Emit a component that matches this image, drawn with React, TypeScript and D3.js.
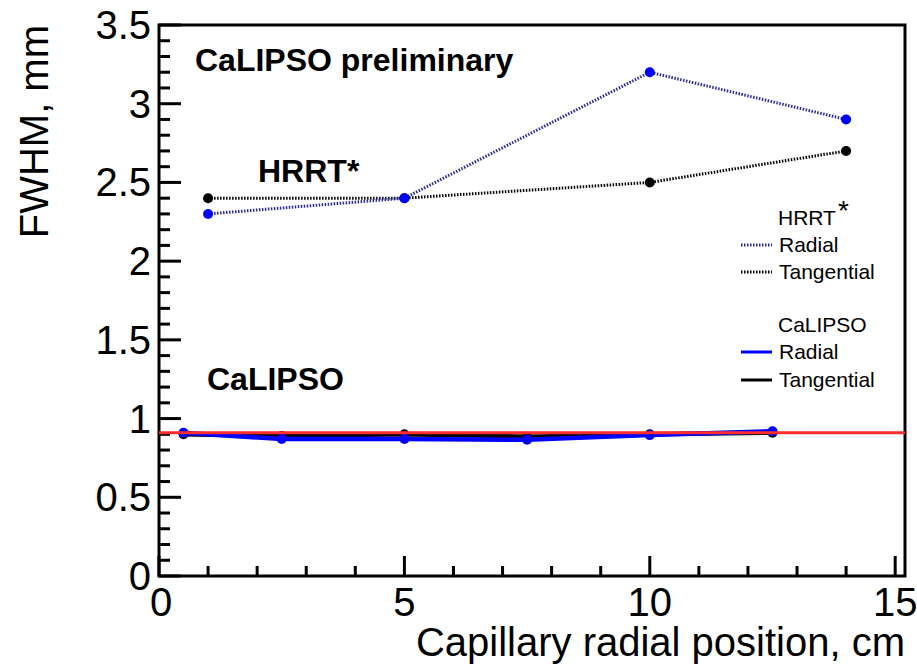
import React from 'react';
import * as d3 from 'd3';

// HRRT* reference scanner (dotted)
const hrrtX = [1, 5, 10, 14];
const hrrtRadial = [2.3, 2.4, 3.2, 2.9];
const hrrtTangential = [2.4, 2.4, 2.5, 2.7];

// CaLIPSO (solid)
const calipsoX = [0.5, 2.5, 5, 7.5, 10, 12.5];
const calipsoRadial = [0.91, 0.87, 0.87, 0.865, 0.895, 0.92];
const calipsoTangential = [0.9, 0.89, 0.9, 0.885, 0.9, 0.91];

const refLevel = 0.91;

const yTicks = [0, 0.5, 1, 1.5, 2, 2.5, 3, 3.5];
const xTicks = [0, 5, 10, 15];

const W = 917, H = 665;
const FONT = '"Liberation Sans", Arial, Helvetica, sans-serif';

const App = () => {
  const x = d3.scaleLinear().domain([0, 15.2]).range([159, 905]);
  const y = d3.scaleLinear().domain([0, 3.5]).range([576, 25]);

  const line = d3.line<[number, number]>()
    .x(d => x(d[0]))
    .y(d => y(d[1]));

  const pts = (xs: number[], ys: number[]) => xs.map((v, i) => [v, ys[i]] as [number, number]);

  const yMinor = d3.range(0, 3.5001, 0.1);
  const xMinor = d3.range(0, 15.001, 1);

  const legendRows = [
    {label: 'Radial', color: '#2a2a9a', dash: '1.5,1.5', y: 252},
    {label: 'Tangential', color: '#000', dash: '1.5,1.5', y: 279},
    {label: 'Radial', color: '#0000ff', dash: null, y: 359},
    {label: 'Tangential', color: '#000', dash: null, y: 387},
  ];

  return (
    <svg width={W} height={H} style={{position: 'absolute', left: 0, top: 0, background: '#fff'}}
      fontFamily={FONT}>
      {/* frame */}
      <rect x={x(0)} y={y(3.5)} width={x(15.2) - x(0)} height={y(0) - y(3.5)}
        fill="none" stroke="#000" strokeWidth={3} />

      {/* y ticks */}
      {yMinor.map((t, i) => {
        const major = i % 5 === 0;
        return <line key={'ym' + i} x1={x(0)} x2={x(0) + (major ? 22 : 11)} y1={y(t)} y2={y(t)}
          stroke="#000" strokeWidth={3} />;
      })}
      {yTicks.map(t => (
        <text key={'yl' + t} x={151} y={y(t) + 14} textAnchor="end" fontSize={40}>
          {d3.format('~g')(t)}
        </text>
      ))}

      {/* x ticks */}
      {xMinor.map((t, i) => {
        const major = i % 5 === 0;
        return <line key={'xm' + i} x1={x(t)} x2={x(t)} y1={y(0)} y2={y(0) - (major ? 20 : 10)}
          stroke="#000" strokeWidth={3} />;
      })}
      {xTicks.map(t => (
        <text key={'xl' + t} x={x(t) + (t === 0 ? 2 : 0)} y={616} textAnchor="middle" fontSize={40}>
          {t}
        </text>
      ))}

      {/* axis titles */}
      <text x={905} y={656} textAnchor="end" fontSize={40}>Capillary radial position, cm</text>
      <text transform="translate(48,25) rotate(-90)" textAnchor="end" fontSize={40}>FWHM, mm</text>

      {/* HRRT dotted series */}
      <path d={line(pts(hrrtX, hrrtTangential)) || ''} fill="none" stroke="#000" strokeWidth={3}
        strokeDasharray="1.5,1.5" />
      <path d={line(pts(hrrtX, hrrtRadial)) || ''} fill="none" stroke="#2a2a9a" strokeWidth={3}
        strokeDasharray="1.5,1.5" />
      {hrrtX.map((v, i) => <circle key={'ht' + i} cx={x(v)} cy={y(hrrtTangential[i])} r={5} fill="#000" />)}
      {hrrtX.map((v, i) => <circle key={'hr' + i} cx={x(v)} cy={y(hrrtRadial[i])} r={5} fill="#0000ff" />)}

      {/* CaLIPSO solid series */}
      <path d={line(pts(calipsoX, calipsoTangential)) || ''} fill="none" stroke="#000" strokeWidth={4.5} />
      {calipsoX.map((v, i) => <circle key={'ct' + i} cx={x(v)} cy={y(calipsoTangential[i])} r={5} fill="#000" />)}
      <path d={line(pts(calipsoX, calipsoRadial)) || ''} fill="none" stroke="#0000ff" strokeWidth={4.5} />
      {calipsoX.map((v, i) => <circle key={'cr' + i} cx={x(v)} cy={y(calipsoRadial[i])} r={5} fill="#0000ff" />)}

      {/* reference level */}
      <line x1={x(0)} x2={x(15.2)} y1={y(refLevel)} y2={y(refLevel)} stroke="#ff2d2d" strokeWidth={3} />

      {/* annotations */}
      <text x={195} y={71} fontSize={32} fontWeight="bold">CaLIPSO preliminary</text>
      <text x={258} y={182} fontSize={32} fontWeight="bold">HRRT*</text>
      <text x={207} y={390} fontSize={32} fontWeight="bold">CaLIPSO</text>

      {/* legend */}
      <text x={778} y={225} fontSize={21}>HRRT<tspan fontSize={28} dy={-5} dx={2}>*</tspan></text>
      <text x={778} y={332} fontSize={21}>CaLIPSO</text>
      {legendRows.map((r, i) => (
        <g key={'lg' + i}>
          <line x1={741} x2={772} y1={r.y - 7} y2={r.y - 7} stroke={r.color} strokeWidth={3}
            strokeDasharray={r.dash || undefined} />
          <text x={779} y={r.y} fontSize={21}>{r.label}</text>
        </g>
      ))}
    </svg>
  );
};

export default App;
